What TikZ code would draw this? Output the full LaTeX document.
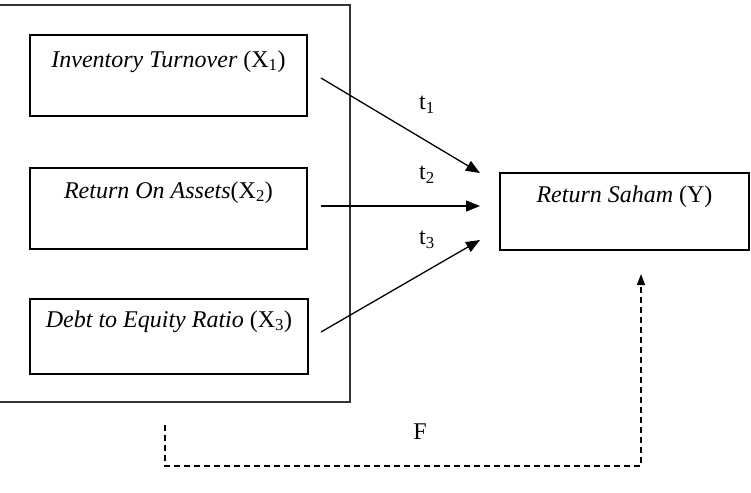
\documentclass[tikz,border=0pt]{standalone}
\usepackage{fontspec}
\setmainfont{Liberation Serif}
\usetikzlibrary{arrows.meta,calc}
\begin{document}
\begin{tikzpicture}[x=1pt,y=-1pt,
  box/.style={draw,line width=1.3pt,minimum width=#1,inner sep=0pt},
  lbl/.style={font=\fontsize{24}{28}\selectfont,inner sep=0pt},
  arr/.style={line width=1.3pt,-{Triangle[length=14pt,width=11pt]}},
  darr/.style={line width=1.3pt,dash pattern=on 6pt off 4pt,-{Triangle[length=11pt,width=8pt]}}]
\useasboundingbox (0,0) rectangle (751,492);
\begin{scope}
\clip (0,0) rectangle (751,492);
\node[draw,line width=1.5pt,draw=black!80,minimum width=351pt,minimum height=397pt,inner sep=0pt] (outer) at (174.5,203.5) {};
\end{scope}
\node[box=277pt,minimum height=81pt] (b1) at (168.5,75.5) {};
\node[box=277pt,minimum height=81pt] (b2) at (168.5,208.5) {};
\node[box=278pt,minimum height=75pt] (b3) at (169,336.5) {};
\node[box=249pt,minimum height=77pt] (y) at (624.5,211.5) {};
\node[lbl] (t1text) at ($(b1.north)+(0,27)$) {\textit{Inventory Turnover} (X\textsubscript{1})};
\node[lbl] (t2text) at ($(b2.north)+(0,25)$) {\textit{Return On Assets}(X\textsubscript{2})};
\node[lbl] (t3text) at ($(b3.north)+(0,23)$) {\textit{Debt to Equity Ratio} (X\textsubscript{3})};
\node[lbl] (ytext) at ($(y.north)+(0,24)$) {\textit{Return Saham} (Y)};
\coordinate (s1) at (321,78);
\coordinate (s2) at (321,206);
\coordinate (s3) at (321,332);
\coordinate (e1) at (480,173);
\coordinate (e2) at (480,206);
\coordinate (e3) at (480,240);
\draw[arr] (s1) -- (e1);
\draw[arr] (s2) -- (e2);
\draw[arr] (s3) -- (e3);
\node[lbl] (l1) at (427,105) {t\textsubscript{1}};
\node[lbl] (l2) at (427,175) {t\textsubscript{2}};
\node[lbl] (l3) at (427,240) {t\textsubscript{3}};
\coordinate (d0) at (165,425);
\coordinate (d1) at (165,466);
\coordinate (d2) at (641,466);
\coordinate (d3) at (641,274);
\draw[darr] (d0) -- (d1) -- (d2) -- (d3);
\node[lbl] (f) at (420,432) {F};
\end{tikzpicture}
\end{document}
